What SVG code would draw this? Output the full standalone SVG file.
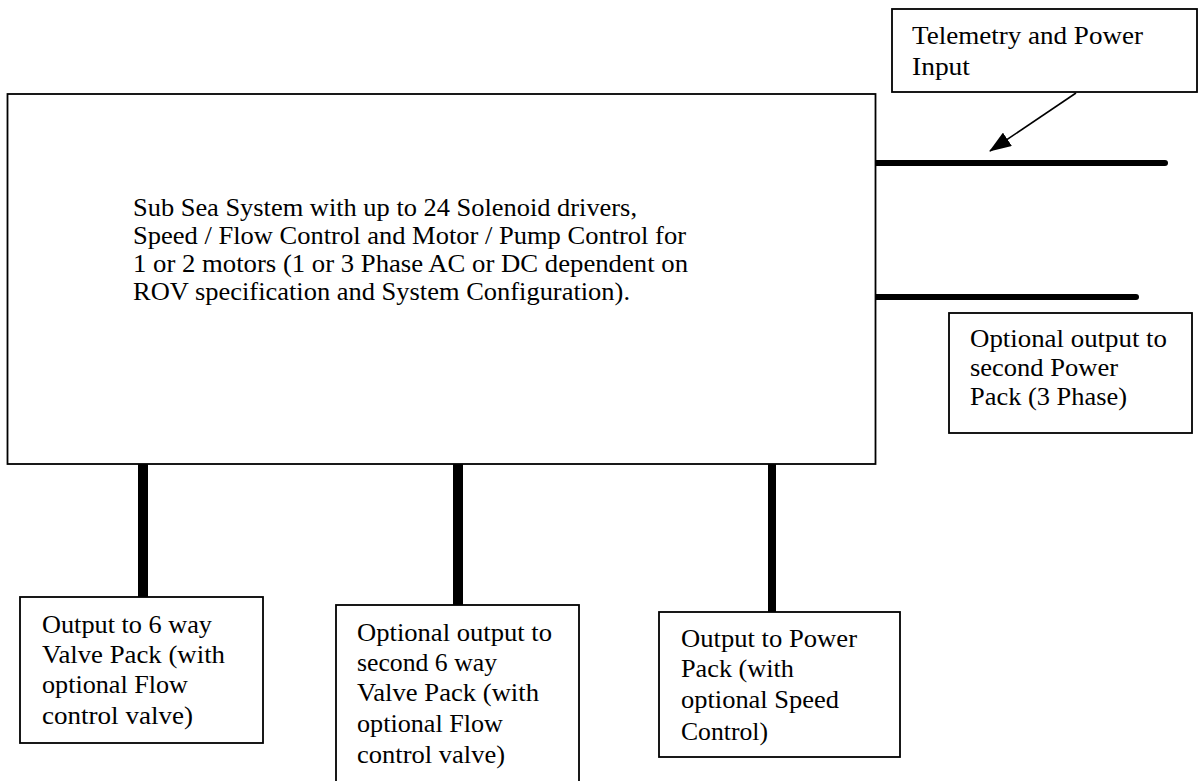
<svg xmlns="http://www.w3.org/2000/svg" width="1199" height="781" viewBox="0 0 1199 781">
<style>
.box{fill:#fff;stroke:#000;stroke-width:1.8}
.t{font-family:'Liberation Serif',serif;font-size:26px;fill:#000}
.tm{font-family:'Liberation Serif',serif;font-size:25.5px;fill:#000}
.bus{stroke:#000;stroke-linecap:round;fill:none}
</style>
<defs>
<marker id="ah" markerWidth="22" markerHeight="16" refX="21" refY="8" orient="auto" markerUnits="userSpaceOnUse">
<path d="M0,0 L22,8 L0,16 Z" fill="#000"/>
</marker>
</defs>
<rect width="1199" height="781" fill="#fff"/>
<g id="connectors">
<line class="bus" x1="876" y1="163" x2="1165" y2="163" stroke-width="6"/>
<line class="bus" x1="876" y1="297" x2="1136" y2="297" stroke-width="6"/>
<line class="bus" x1="143" y1="465" x2="143" y2="597" stroke-width="10"/>
<line class="bus" x1="458" y1="465" x2="458" y2="606" stroke-width="10"/>
<line class="bus" x1="772" y1="465" x2="772" y2="612" stroke-width="8"/>
<line x1="1076" y1="93" x2="990" y2="151" stroke="#000" stroke-width="1.6" marker-end="url(#ah)"/>
</g>
<g id="main">
<rect class="box" x="7.5" y="94" width="868" height="370"/>
<text class="tm" x="133" y="216" textLength="504" lengthAdjust="spacingAndGlyphs">Sub Sea System with up to 24 Solenoid drivers,</text>
<text class="tm" x="133" y="244" textLength="553" lengthAdjust="spacingAndGlyphs">Speed / Flow Control and Motor / Pump Control for</text>
<text class="tm" x="133" y="272" textLength="555" lengthAdjust="spacingAndGlyphs">1 or 2 motors (1 or 3 Phase AC or DC dependent on</text>
<text class="tm" x="133" y="300" textLength="497" lengthAdjust="spacingAndGlyphs">ROV specification and System Configuration).</text>
</g>
<g id="telemetry">
<rect class="box" x="892" y="9" width="305" height="83"/>
<text class="t" x="912" y="44" textLength="231" lengthAdjust="spacingAndGlyphs">Telemetry and Power</text>
<text class="t" x="912" y="75" textLength="58" lengthAdjust="spacingAndGlyphs">Input</text>
</g>
<g id="second-power">
<rect class="box" x="949" y="313" width="243" height="120"/>
<text class="t" x="970" y="347" textLength="197" lengthAdjust="spacingAndGlyphs">Optional output to</text>
<text class="t" x="970" y="376" textLength="148" lengthAdjust="spacingAndGlyphs">second Power</text>
<text class="t" x="970" y="405" textLength="157" lengthAdjust="spacingAndGlyphs">Pack (3 Phase)</text>
</g>
<g id="valve1">
<rect class="box" x="20" y="597" width="243" height="146"/>
<text class="t" x="42" y="633" textLength="170" lengthAdjust="spacingAndGlyphs">Output to 6 way</text>
<text class="t" x="42" y="663" textLength="183" lengthAdjust="spacingAndGlyphs">Valve Pack (with</text>
<text class="t" x="42" y="693" textLength="146" lengthAdjust="spacingAndGlyphs">optional Flow</text>
<text class="t" x="42" y="724" textLength="151" lengthAdjust="spacingAndGlyphs">control valve)</text>
</g>
<g id="valve2">
<rect class="box" x="336" y="605" width="243" height="190"/>
<text class="t" x="357" y="641" textLength="195" lengthAdjust="spacingAndGlyphs">Optional output to</text>
<text class="t" x="357" y="671" textLength="140" lengthAdjust="spacingAndGlyphs">second 6 way</text>
<text class="t" x="357" y="701" textLength="182" lengthAdjust="spacingAndGlyphs">Valve Pack (with</text>
<text class="t" x="357" y="732" textLength="146" lengthAdjust="spacingAndGlyphs">optional Flow</text>
<text class="t" x="357" y="763" textLength="148" lengthAdjust="spacingAndGlyphs">control valve)</text>
</g>
<g id="powerpack">
<rect class="box" x="659" y="612" width="241" height="145"/>
<text class="t" x="681" y="647" textLength="176" lengthAdjust="spacingAndGlyphs">Output to Power</text>
<text class="t" x="681" y="677" textLength="113" lengthAdjust="spacingAndGlyphs">Pack (with</text>
<text class="t" x="681" y="708" textLength="158" lengthAdjust="spacingAndGlyphs">optional Speed</text>
<text class="t" x="681" y="740" textLength="87" lengthAdjust="spacingAndGlyphs">Control)</text>
</g>
</svg>
